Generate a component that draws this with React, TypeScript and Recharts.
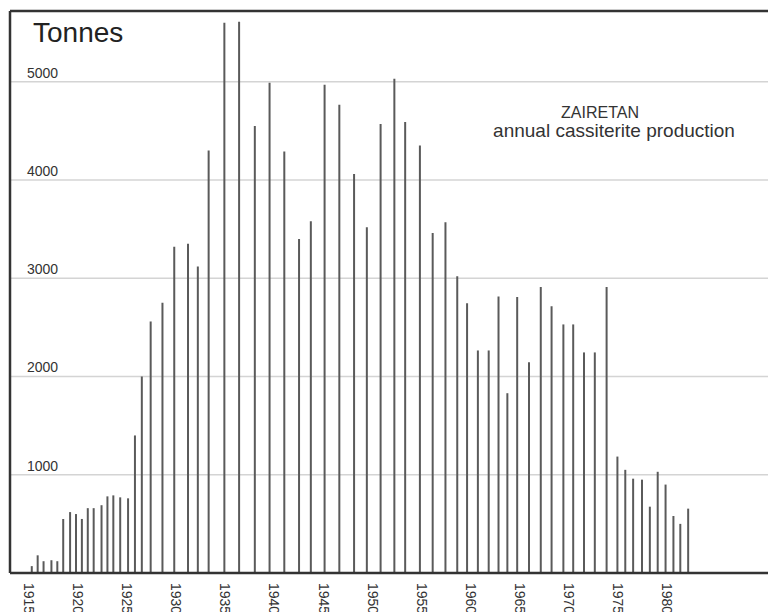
import { Bar, BarChart, CartesianGrid, ReferenceLine, XAxis, YAxis } from 'recharts';

// x position of each spike (the drawing is not evenly spaced)
const years = [
  1915.3, 1915.9, 1916.5, 1917.3, 1917.9, 1918.5, 1919.2, 1919.8, 1920.4, 1921.0,
  1921.6, 1922.4, 1923.0, 1923.6, 1924.3, 1925.1, 1925.8, 1926.5, 1927.4, 1928.6,
  1929.8, 1931.2, 1932.2, 1933.3, 1934.9, 1936.4, 1938.0, 1939.5, 1941.0, 1942.5,
  1943.7, 1945.1, 1946.6, 1948.1, 1949.4, 1950.8, 1952.2, 1953.3, 1954.8, 1956.1,
  1957.4, 1958.6, 1959.6, 1960.7, 1961.8, 1962.8, 1963.7, 1964.7, 1965.9, 1967.1,
  1968.2, 1969.4, 1970.4, 1971.5, 1972.6, 1973.8, 1974.9, 1975.7, 1976.5, 1977.4,
  1978.2, 1979.0, 1979.8, 1980.6, 1981.3, 1982.1,
];

const tonnes = [
  70, 180, 120, 130, 120, 550, 620, 600, 550, 660,
  660, 690, 780, 790, 770, 760, 1400, 2000, 2560, 2750,
  3320, 3350, 3120, 4300, 5600, 5610, 4550, 4990, 4290, 3400,
  3580, 4970, 4765, 4060, 3520, 4570, 5030, 4590, 4350, 3460,
  3570, 3020, 2745, 2265, 2265, 2815, 1830, 2810, 2145, 2910,
  2715, 2530, 2530, 2245, 2245, 2910, 1185, 1050, 960, 950,
  675, 1030, 900, 580, 500, 655,
];

const yTicks = [1000, 2000, 3000, 4000, 5000];
const xTicks = [1915, 1920, 1925, 1930, 1935, 1940, 1945, 1950, 1955, 1960, 1965, 1970, 1975, 1980];

const data = years.map((year, i) => ({ year, tonnes: tonnes[i] }));

const X_DOMAIN = [1913.09, 1990.23];
const Y_MAX = 5720;
const FONT = '"Liberation Sans", Arial, sans-serif';

function YearTick({ x, y, payload }: any) {
  return (
    <text
      transform={`translate(${x},${y + 2}) rotate(90)`}
      textAnchor="start"
      dominantBaseline="central"
      fontSize={14}
      fontFamily={FONT}
      fill="#333"
    >
      {payload.value}
    </text>
  );
}

function TonneTick({ x, y, payload }: any) {
  return (
    <text x={x + 17} y={y - 4} textAnchor="start" fontSize={14} fontFamily={FONT} fill="#333">
      {payload.value}
    </text>
  );
}

export default function App() {
  return (
    <div style={{ position: 'absolute', left: 0, top: 0, width: 768, height: 612, background: '#fff' }}>
      <BarChart width={768} height={612} data={data} margin={{ top: 11, right: 0, left: 9, bottom: 0 }}>
        <CartesianGrid vertical={false} stroke="#d4d4d4" strokeWidth={1.5} />
        <XAxis
          dataKey="year"
          type="number"
          domain={X_DOMAIN}
          ticks={xTicks}
          interval={0}
          height={39}
          tickLine={false}
          tickSize={0}
          tickMargin={8}
          axisLine={{ stroke: '#333', strokeWidth: 2.5 }}
          tick={<YearTick />}
        />
        <YAxis
          type="number"
          domain={[0, Y_MAX]}
          ticks={yTicks}
          width={1}
          tickLine={false}
          tickSize={0}
          tickMargin={0}
          axisLine={false}
          tick={<TonneTick />}
        />
        <ReferenceLine y={Y_MAX} stroke="#333" strokeWidth={2.5} ifOverflow="visible" />
        <ReferenceLine x={X_DOMAIN[0]} stroke="#333" strokeWidth={2.5} ifOverflow="visible" />
        <Bar dataKey="tonnes" fill="#5a5a5a" barSize={2} isAnimationActive={false} />
      </BarChart>
      <svg width={768} height={612} style={{ position: 'absolute', left: 0, top: 0, pointerEvents: 'none' }}>
        <text x={33} y={42} fontSize={28} fontFamily={FONT} fill="#222">
          Tonnes
        </text>
        <text x={600} y={118} textAnchor="middle" fontSize={16} fontFamily={FONT} fill="#333">
          ZAIRETAN
        </text>
        <text x={614} y={137} textAnchor="middle" fontSize={19} fontFamily={FONT} fill="#333">
          annual cassiterite production
        </text>
      </svg>
    </div>
  );
}
